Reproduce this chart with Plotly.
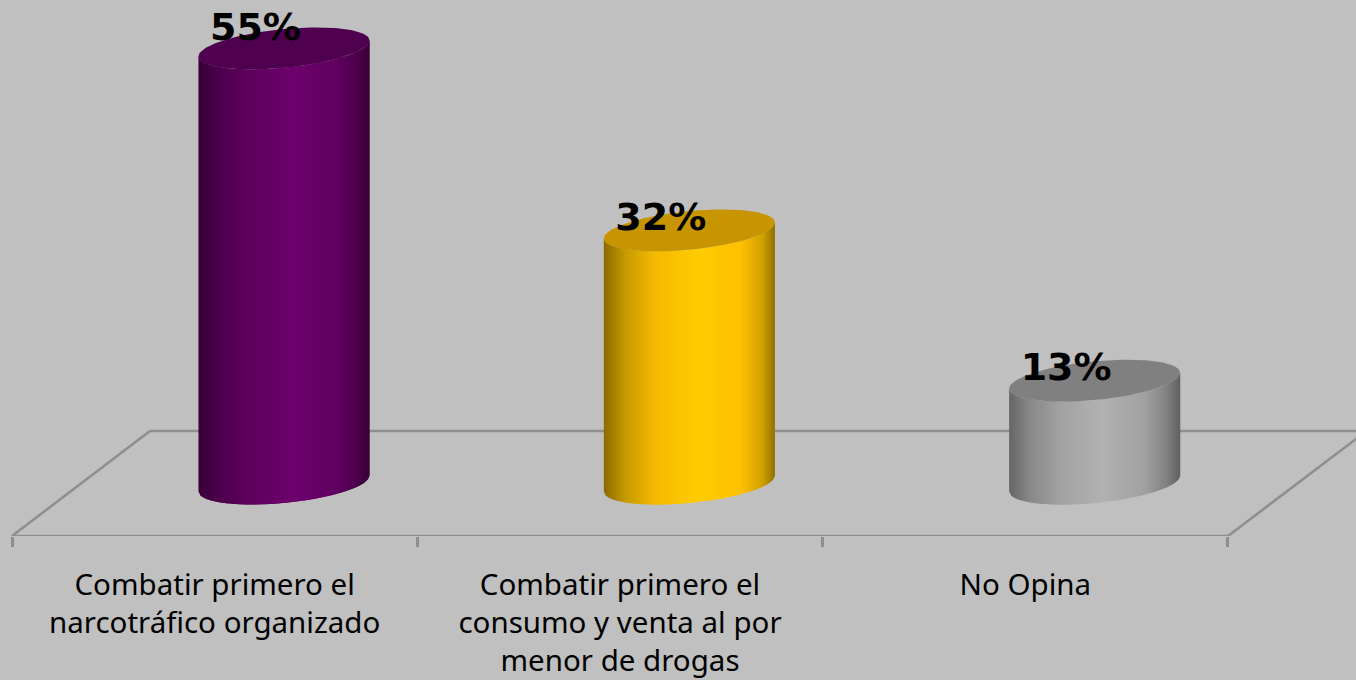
import math
import plotly.graph_objects as go

# ---- data ----
categories = ["Combatir primero el<br>narcotráfico organizado",
              "Combatir primero el<br>consumo y venta al por<br>menor de drogas",
              "No Opina"]
values = [55, 32, 13]
value_labels = ["55%", "32%", "13%"]
gradient_stops = [0, .12, .3, .55, .8, .93, 1]
side_gradients = [
    ["#380038", "#4D004D", "#5D005D", "#6E006E", "#610061", "#4B004B", "#370037"],
    ["#8A6A00", "#C59800", "#F5BA00", "#FFCC00", "#FFC000", "#CFA000", "#8F7000"],
    ["#666666", "#888888", "#A2A2A2", "#B2B2B2", "#A0A0A0", "#7E7E7E", "#606060"],
]
top_colors = ["#4F004F", "#C79500", "#808080"]
label_lift_px = [17.5, 9.5, 10]

# ---- geometry (pixels of the 1356x680 picture) ----
W, H = 1356, 680
PLOT_BOTTOM = 536
PX_X = 405.33      # one category, px
PX_Y = 7.91        # one percentage point, px
X0_PX = 12         # front left corner of the floor
Y0_PX = 483.5      # centre of the cylinders' base
DEPTH_X = 0.171
HALF_W = 85.5 / PX_X
SHEAR = 8.0 / PX_Y
MINOR = 19.4 / PX_Y
FLOOR_DX, FLOOR_DY = 138 / PX_X, 105 / PX_Y
FRONT = (Y0_PX - PLOT_BOTTOM) / PX_Y
GRID = "#8E8E8E"
BG = "#C0C0C0"


def rgb(h):
    return [int(h[i:i + 2], 16) for i in (1, 3, 5)]


def shade(grad, u):
    for j in range(len(gradient_stops) - 1):
        a, b = gradient_stops[j], gradient_stops[j + 1]
        if a <= u <= b:
            t = (u - a) / (b - a)
            c0, c1 = rgb(grad[j]), rgb(grad[j + 1])
            return "rgb({},{},{})".format(
                *[round(p + (q - p) * t) for p, q in zip(c0, c1)])
    return grad[-1]


def edge(u, level, sign):
    """y of the sheared ellipse at normalised position u in [-1, 1]."""
    return level + SHEAR * u + sign * MINOR * math.sqrt(max(0.0, 1 - u * u))


fig = go.Figure()

# floor
back = FRONT + FLOOR_DY
right_end = (W - X0_PX) / PX_X
floor_x = [0, FLOOR_DX, None, FLOOR_DX, right_end, None, 0, 3, None, 3,
           right_end]
floor_y = [FRONT, back, None, back, back, None, FRONT, FRONT, None, FRONT,
           FRONT + (right_end - 3) * PX_X * 0.758 / PX_Y]
fig.add_trace(go.Scatter(x=floor_x, y=floor_y, mode="lines", cliponaxis=False,
                         line=dict(color=GRID, width=2.5), hoverinfo="skip",
                         showlegend=False))

# cylinders
N = 86
for i, (v, grad, top) in enumerate(zip(values, side_gradients, top_colors)):
    cx = i + 0.5 + DEPTH_X
    for k in range(N):
        u0 = -1 + 2 * k / N
        u1 = min(1.0, -1 + 2 * (k + 2) / N)
        us = [u0 + (u1 - u0) * t / 2 for t in range(3)]
        xs = [cx + u * HALF_W for u in us]
        low = [edge(u, 0, -1) for u in us]
        high = [edge(u, v, -1) for u in us]
        fig.add_trace(go.Scatter(
            x=xs + xs[::-1] + xs[:1], y=low + high[::-1] + low[:1],
            mode="lines", fill="toself", line=dict(width=0),
            fillcolor=shade(grad, (k + 0.5) / N),
            hoverinfo="skip", showlegend=False))
    us = [math.cos(math.pi * t / 60) for t in range(61)]
    ex = [cx + u * HALF_W for u in us] + [cx + u * HALF_W for u in us[::-1]]
    ey = [edge(u, v, 1) for u in us] + [edge(u, v, -1) for u in us[::-1]]
    fig.add_trace(go.Scatter(x=ex, y=ey, mode="lines", fill="toself",
                             line=dict(width=0), fillcolor=top,
                             hoverinfo="skip", showlegend=False))

# value labels
fig.add_trace(go.Scatter(
    x=[i + 0.5 + DEPTH_X - 28.5 / PX_X for i in range(len(values))],
    y=[v + lift / PX_Y for v, lift in zip(values, label_lift_px)],
    text=value_labels, mode="text", textposition="middle center",
    textfont=dict(family="DejaVu Sans", size=38, color="#000000",
                  weight="bold"),
    cliponaxis=False, hoverinfo="skip", showlegend=False))

fig.update_layout(
    width=W, height=H, autosize=False,
    margin=dict(l=0, r=0, t=0, b=H - PLOT_BOTTOM, pad=0),
    paper_bgcolor=BG, plot_bgcolor=BG, showlegend=False,
    xaxis=dict(range=[-X0_PX / PX_X, (W - X0_PX) / PX_X],
               tickvals=[i + 0.5 for i in range(len(categories))],
               ticktext=categories, tickangle=0, ticks="", showgrid=False,
               zeroline=False, showline=False, ticklabelstandoff=28,
               automargin=False,
               tickfont=dict(family="Noto Sans", size=29.5, color="#000000"),
               minor=dict(tick0=0, dtick=1, ticks="outside", ticklen=10,
                          tickwidth=2.5, tickcolor=GRID, showgrid=False)),
    yaxis=dict(range=[FRONT, Y0_PX / PX_Y], visible=False, fixedrange=True),
)

fig.write_html("out.html", config=dict(displayModeBar=False),
               post_script="document.body.style.margin='0';"
                           "document.body.style.background='#C0C0C0';")
